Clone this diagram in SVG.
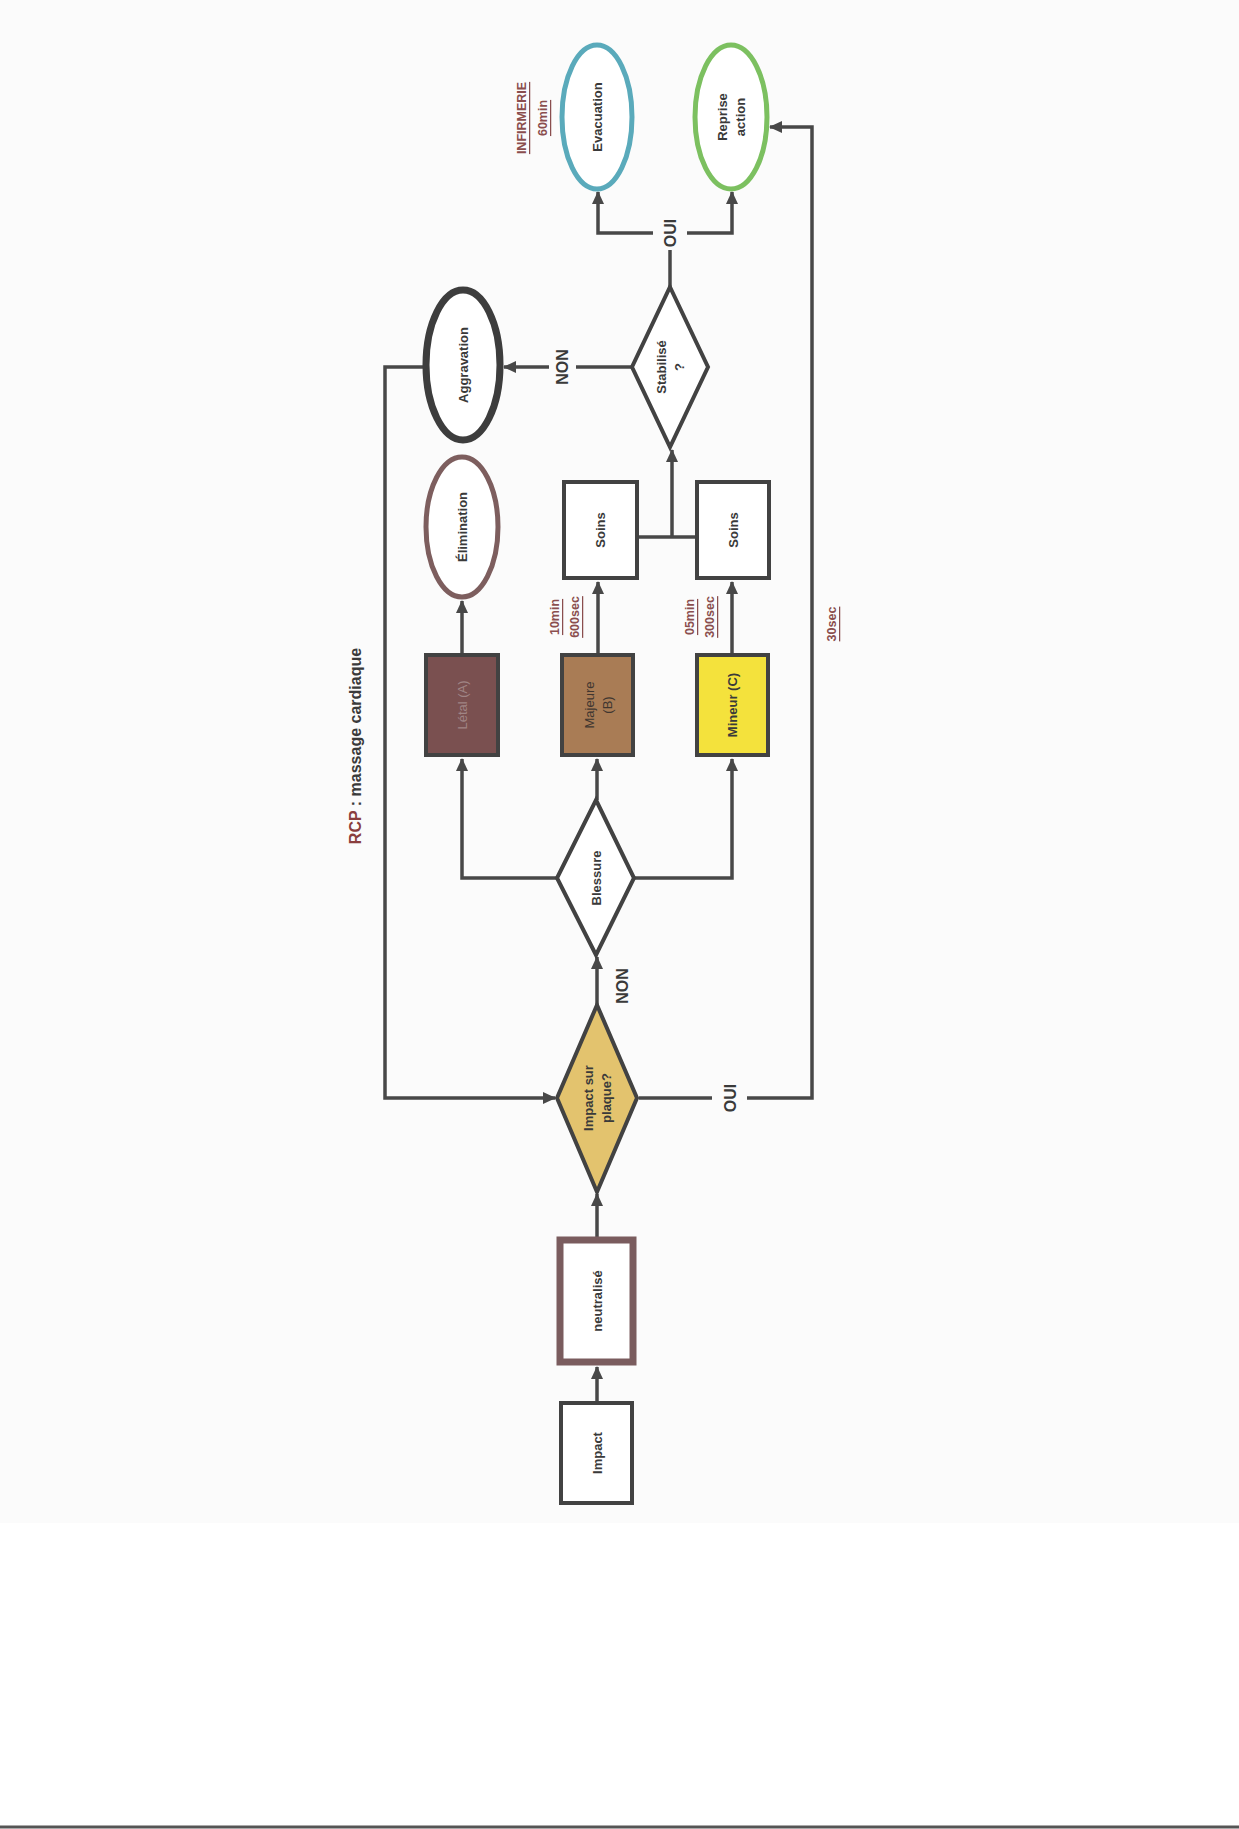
<svg xmlns="http://www.w3.org/2000/svg" width="1239" height="1829" viewBox="0 0 1239 1829">
<style>
.lbl{font-family:"Liberation Sans","Open Sans",sans-serif;font-weight:bold;font-size:13px;fill:#3a3a3a;text-anchor:middle;dominant-baseline:central}
.big{font-family:"Liberation Sans","Open Sans",sans-serif;font-weight:bold;font-size:16px;fill:#3a3a3a;text-anchor:middle;dominant-baseline:central}
.time{font-family:"Liberation Sans","Open Sans",sans-serif;font-weight:bold;font-size:12.5px;fill:#8a4e4e;text-anchor:middle;dominant-baseline:central;text-decoration:underline}
.box{stroke:#424242;stroke-width:4}
.con{fill:none;stroke:#484848;stroke-width:3.5}
</style>
<defs>
<marker id="ah" markerUnits="userSpaceOnUse" markerWidth="14" markerHeight="14" viewBox="0 0 14 14" refX="12" refY="7" orient="auto">
<path d="M0,1 L13,7 L0,13 Z" fill="#484848"/>
</marker>
</defs>
<rect x="0" y="0" width="1239" height="1829" fill="#ffffff"/>
<rect x="0" y="0" width="1239" height="1523" fill="#fbfbfb"/>
<line x1="0" y1="1827" x2="1239" y2="1827" stroke="#555" stroke-width="3"/>

<g id="title">
<text class="big" transform="translate(355,746) rotate(-90)"><tspan fill="#8a3e3e">RCP</tspan> : massage cardiaque</text>
</g>

<g id="connectors">
<line class="con" x1="597" y1="1403" x2="597" y2="1367" marker-end="url(#ah)"/>
<line class="con" x1="597" y1="1238" x2="597" y2="1194" marker-end="url(#ah)"/>
<line class="con" x1="597" y1="1005" x2="597" y2="957" marker-end="url(#ah)"/>
<text class="big" transform="translate(622,986) rotate(-90)">NON</text>
<polyline class="con" points="557,878 462,878 462,759" marker-end="url(#ah)"/>
<line class="con" x1="597" y1="800" x2="597" y2="759" marker-end="url(#ah)"/>
<polyline class="con" points="634,878 732,878 732,759" marker-end="url(#ah)"/>
<line class="con" x1="462" y1="655" x2="462" y2="601" marker-end="url(#ah)"/>
<line class="con" x1="598" y1="655" x2="598" y2="582" marker-end="url(#ah)"/>
<line class="con" x1="732" y1="655" x2="732" y2="582" marker-end="url(#ah)"/>
<line class="con" x1="637" y1="537" x2="697" y2="537"/>
<line class="con" x1="672" y1="537" x2="672" y2="450" marker-end="url(#ah)"/>
<line class="con" x1="632" y1="367" x2="576" y2="367"/>
<text class="big" transform="translate(562,367) rotate(-90)">NON</text>
<line class="con" x1="549" y1="367" x2="504" y2="367" marker-end="url(#ah)"/>
<polyline class="con" points="425,367 385,367 385,1098 555,1098" marker-end="url(#ah)"/>
<line class="con" x1="670" y1="287" x2="670" y2="250"/>
<text class="big" transform="translate(670,233) rotate(-90)">OUI</text>
<polyline class="con" points="653,233 598,233 598,192" marker-end="url(#ah)"/>
<polyline class="con" points="687,233 732,233 732,192" marker-end="url(#ah)"/>
<line class="con" x1="639" y1="1098" x2="712" y2="1098"/>
<text class="big" transform="translate(730,1098) rotate(-90)">OUI</text>
<polyline class="con" points="747,1098 812,1098 812,127 770,127" marker-end="url(#ah)"/>
<text class="time" transform="translate(832,624) rotate(-90)">30sec</text>
<text class="time" transform="translate(555,617) rotate(-90)">10min</text>
<text class="time" transform="translate(575,617) rotate(-90)">600sec</text>
<text class="time" transform="translate(690,617) rotate(-90)">05min</text>
<text class="time" transform="translate(710,617) rotate(-90)">300sec</text>
<text class="time" transform="translate(522,118) rotate(-90)">INFIRMERIE</text>
<text class="time" transform="translate(543,118) rotate(-90)">60min</text>
</g>

<g id="impact">
<rect class="box" x="561" y="1403" width="71" height="100" fill="#ffffff"/>
<text class="lbl" transform="translate(597,1453) rotate(-90)">Impact</text>
</g>
<g id="neutralise">
<rect x="560" y="1240" width="73" height="122" fill="#ffffff" stroke="#7a5c5e" stroke-width="7"/>
<text class="lbl" transform="translate(597,1301) rotate(-90)">neutralisé</text>
</g>
<g id="impact-plaque">
<polygon class="box" points="597,1005 637,1098 597,1192 557,1098" fill="#e3c36e"/>
<text class="lbl" transform="translate(597,1098) rotate(-90)"><tspan x="0" dy="-9">Impact sur</tspan><tspan x="0" dy="18">plaque?</tspan></text>
</g>
<g id="blessure">
<polygon class="box" points="596,800 634,878 596,955 557,878" fill="#ffffff"/>
<text class="lbl" transform="translate(596,878) rotate(-90)">Blessure</text>
</g>
<g id="letal">
<rect class="box" x="426" y="655" width="72" height="100" fill="#7a5050"/>
<text class="lbl" transform="translate(462,705) rotate(-90)" style="fill:#a08585;font-weight:normal">Létal (A)</text>
</g>
<g id="majeure">
<rect class="box" x="562" y="655" width="71" height="100" fill="#a97c55"/>
<text class="lbl" transform="translate(598,705) rotate(-90)" style="font-weight:normal;fill:#403630"><tspan x="0" dy="-9">Majeure</tspan><tspan x="0" dy="18">(B)</tspan></text>
</g>
<g id="mineur">
<rect class="box" x="697" y="655" width="71" height="100" fill="#f4e23c"/>
<text class="lbl" transform="translate(732,705) rotate(-90)">Mineur (C)</text>
</g>
<g id="elimination">
<ellipse cx="462" cy="527" rx="36" ry="70" fill="#ffffff" stroke="#7d5e5e" stroke-width="5"/>
<text class="lbl" transform="translate(462,527) rotate(-90)">Élimination</text>
</g>
<g id="soins1">
<rect class="box" x="564" y="482" width="73" height="96" fill="#ffffff"/>
<text class="lbl" transform="translate(600,530) rotate(-90)">Soins</text>
</g>
<g id="soins2">
<rect class="box" x="697" y="482" width="72" height="96" fill="#ffffff"/>
<text class="lbl" transform="translate(733,530) rotate(-90)">Soins</text>
</g>
<g id="stabilise">
<polygon class="box" points="670,287 708,367 670,447 632,367" fill="#ffffff"/>
<text class="lbl" transform="translate(670,367) rotate(-90)"><tspan x="0" dy="-9">Stabilisé</tspan><tspan x="0" dy="18">?</tspan></text>
</g>
<g id="aggravation">
<ellipse cx="463" cy="365" rx="37" ry="75" fill="#ffffff" stroke="#3d3d3d" stroke-width="7"/>
<text class="lbl" transform="translate(463,365) rotate(-90)">Aggravation</text>
</g>
<g id="evacuation">
<ellipse cx="597" cy="117" rx="35" ry="72" fill="#ffffff" stroke="#5aaabb" stroke-width="5"/>
<text class="lbl" transform="translate(597,117) rotate(-90)">Evacuation</text>
</g>
<g id="reprise">
<ellipse cx="731" cy="117" rx="36" ry="72" fill="#ffffff" stroke="#7cc060" stroke-width="5"/>
<text class="lbl" transform="translate(731,117) rotate(-90)"><tspan x="0" dy="-9">Reprise</tspan><tspan x="0" dy="18">action</tspan></text>
</g>
</svg>
